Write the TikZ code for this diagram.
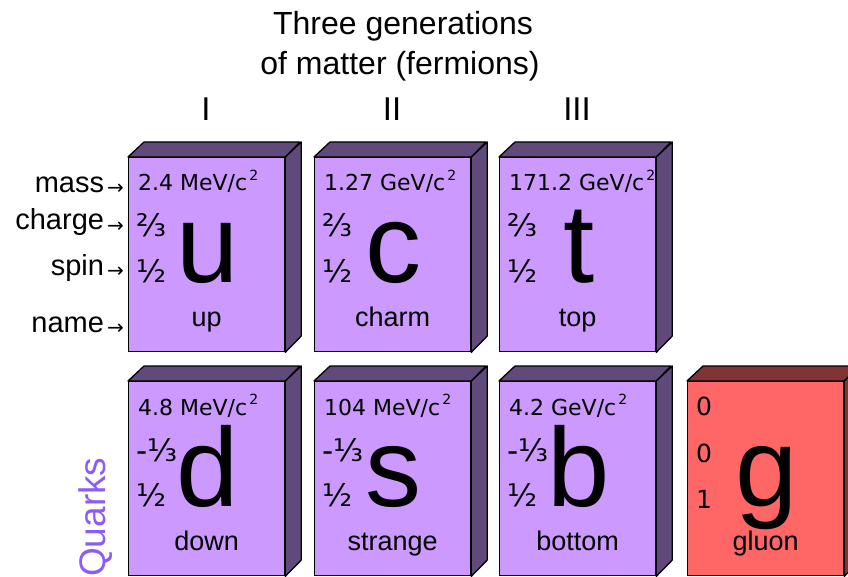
\documentclass[tikz,border=0pt]{standalone}
\usepackage{fontspec}
\setmainfont{Liberation Sans}
\newfontfamily\dejavu{DejaVu Sans}
\usepackage{tikz}
\usetikzlibrary{calc}
\definecolor{quarkfront}{HTML}{CC99FF}
\definecolor{quarkside}{HTML}{604A7B}
\definecolor{gluonfront}{HTML}{FF6666}
\definecolor{gluonside}{HTML}{7F3535}
\definecolor{quarklabel}{HTML}{8C5CF8}
\newcommand\csq{/c\kern2pt\raisebox{0.48em}{\fontsize{14}{14}\selectfont 2}}
\newcommand\toarrow{\kern3pt{\dejavu\fontsize{20}{20}\selectfont\raisebox{-2pt}{→}}}
\tikzset{
  cellfront/.style={draw=black,line width=1.3pt,fill=quarkfront,minimum width=156pt,minimum height=194pt,inner sep=0pt,anchor=north west},
  celldepth/.style={draw=black,line width=1.3pt,fill=quarkside,line join=round},
  massval/.style={anchor=base west,inner sep=0pt,font=\dejavu\fontsize{22}{22}\selectfont},
  qnum/.style={anchor=base west,inner sep=0pt,font=\dejavu\fontsize{31}{31}\selectfont},
  bigsym/.style={anchor=base,inner sep=0pt,font=\fontsize{112}{112}\selectfont},
  partname/.style={anchor=base,inner sep=0pt,font=\fontsize{27}{27}\selectfont},
  rowlabel/.style={anchor=base east,inner sep=0pt,font=\fontsize{29}{29}\selectfont},
  gentitle/.style={anchor=base,inner sep=0pt,font=\fontsize{32}{32}\selectfont}
}
\begin{document}
\begin{tikzpicture}[x=1pt,y=-1pt]
\useasboundingbox (0,0) rectangle (848,577);
\node[gentitle] (title1) at (403,35) {Three generations};
\node[gentitle] (title2) at (400,75) {of matter (fermions)};
\foreach \g/\gx in {I/206,II/392,III/577}
  \node[gentitle,font=\fontsize{33}{33}\selectfont] (gen\g) at (\gx,121) {\g};
\foreach \lbl/\ly in {mass/193,charge/230,spin/275,name/332}
  \node[rowlabel] (lbl-\lbl) at (124,\ly) {\lbl\toarrow};
\foreach \n/\bx/\by/\mass/\chg/\pname in {
  u/128/157/2.4 MeV/⅔/up,
  c/314/157/1.27 GeV/⅔/charm,
  t/499/157/171.2 GeV/⅔/top,
  d/128/381/4.8 MeV/-⅓/down,
  s/314/381/104 MeV/-⅓/strange,
  b/499/381/4.2 GeV/-⅓/bottom}{
  \node[cellfront] (\n) at (\bx,\by) {};
  \draw[celldepth] (\n.north west) -- ++(16,-15) -- ++(156,0) -- (\n.north east) -- cycle;
  \draw[celldepth] (\n.north east) -- ++(16,-15) -- ++(0,194) -- (\n.south east) -- cycle;
  \node[massval] (\n-mass) at ($(\n.north west)+(10,34)$) {\mass\csq};
  \node[qnum] (\n-charge) at ($(\n.north west)+(8,80)$) {\chg};
  \node[qnum] (\n-spin) at ($(\n.north west)+(8,125)$) {½};
  \node[bigsym] (\n-sym) at ($(\n.north)+(1,125)$) {\n};
  \node[partname] (\n-name) at ($(\n.north)+(0,169)$) {\pname};
}
\node[cellfront,fill=gluonfront] (g) at (687,381) {};
\draw[celldepth,fill=gluonside] (g.north west) -- ++(16,-15) -- ++(156,0) -- (g.north east) -- cycle;
\draw[celldepth,fill=gluonside] (g.north east) -- ++(16,-15) -- ++(0,194) -- (g.south east) -- cycle;
\foreach \q/\qy [count=\i] in {0/34,0/81,1/127}
  \node[qnum,font=\dejavu\fontsize{25}{25}\selectfont] (g-num\i) at ($(g.north west)+(9,\qy)$) {\q};
\node[bigsym] (g-sym) at ($(g.north)+(1,125)$) {g};
\node[partname] (g-name) at ($(g.north)+(0,169)$) {gluon};
\node[rotate=90,anchor=base west,inner sep=0pt,text=quarklabel,font=\fontsize{37}{37}\selectfont] (quarks) at (105,577) {Quarks};
\end{tikzpicture}
\end{document}
